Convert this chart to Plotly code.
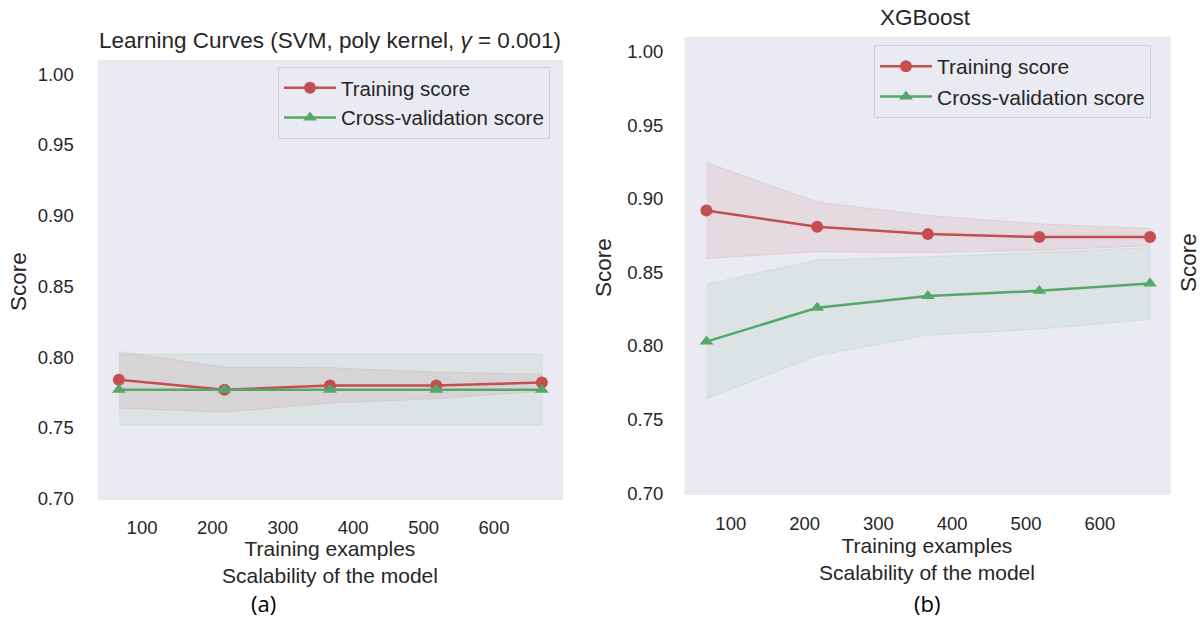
import plotly.graph_objects as go

# ---------------- data ----------------
train_sizes = [67, 217, 367, 518, 668]

svm_train_mean = [0.784, 0.777, 0.780, 0.780, 0.782]
svm_train_std = [0.020, 0.016, 0.0125, 0.0095, 0.006]
svm_cv_mean = [0.777, 0.777, 0.777, 0.777, 0.777]
svm_cv_std = [0.025, 0.025, 0.025, 0.025, 0.025]

xgb_train_mean = [0.892, 0.881, 0.876, 0.874, 0.874]
xgb_train_std = [0.0326, 0.0169, 0.0127, 0.009, 0.0059]
xgb_cv_mean = [0.803, 0.826, 0.834, 0.8375, 0.8425]
xgb_cv_std = [0.039, 0.0325, 0.0266, 0.026, 0.0244]

y_ticks = [0.70, 0.75, 0.80, 0.85, 0.90, 0.95, 1.00]
x_ticks = [100, 200, 300, 400, 500, 600]

titles = ["Learning Curves (SVM, poly kernel, <i>γ</i> = 0.001)", "XGBoost"]
series_names = ["Training score", "Cross-validation score"]
x_title = "Training examples<br>Scalability of the model"

# ---------------- style ----------------
RED = "#C44E52"
GREEN = "#55A868"
RED_FILL = "rgba(196,78,82,0.10)"
GREEN_FILL = "rgba(85,168,104,0.10)"
BG = "#EAEAF2"
TXT = "#262626"
FONT = "Liberation Sans, Arial, sans-serif"

W, H = 1200, 621

def px(x):
    return x / W

def py(y):
    return 1 - y / H

panels = [
    dict(mt=svm_train_mean, st=svm_train_std, mc=svm_cv_mean, sc=svm_cv_std,
         xd=[px(97.7), px(563)], yd=[py(500), py(60)], legend="legend"),
    dict(mt=xgb_train_mean, st=xgb_train_std, mc=xgb_cv_mean, sc=xgb_cv_std,
         xd=[px(684.3), px(1170.7)], yd=[py(495), py(36.7)], legend="legend2"),
]

fig = go.Figure()

for i, p in enumerate(panels):
    xa = "x" if i == 0 else "x2"
    ya = "y" if i == 0 else "y2"
    tu = [m + s for m, s in zip(p["mt"], p["st"])]
    tl = [m - s for m, s in zip(p["mt"], p["st"])]
    cu = [m + s for m, s in zip(p["mc"], p["sc"])]
    cl = [m - s for m, s in zip(p["mc"], p["sc"])]
    fig.add_trace(go.Scatter(x=train_sizes + train_sizes[::-1], y=tu + tl[::-1],
                             fill="toself", fillcolor=RED_FILL, mode="lines",
                             line=dict(color="rgba(196,78,82,0.12)", width=1),
                             showlegend=False, hoverinfo="skip", xaxis=xa, yaxis=ya))
    fig.add_trace(go.Scatter(x=train_sizes + train_sizes[::-1], y=cu + cl[::-1],
                             fill="toself", fillcolor=GREEN_FILL, mode="lines",
                             line=dict(color="rgba(85,168,104,0.12)", width=1),
                             showlegend=False, hoverinfo="skip", xaxis=xa, yaxis=ya))
    fig.add_trace(go.Scatter(x=train_sizes, y=p["mt"], mode="lines+markers",
                             name=series_names[0],
                             line=dict(color=RED, width=2.5),
                             marker=dict(symbol="circle", size=12, color=RED),
                             legend=p["legend"], xaxis=xa, yaxis=ya))
    fig.add_trace(go.Scatter(x=train_sizes, y=p["mc"], mode="lines+markers",
                             name=series_names[1],
                             line=dict(color=GREEN, width=2.5),
                             marker=dict(symbol="triangle-up", size=12, color=GREEN),
                             legend=p["legend"], xaxis=xa, yaxis=ya))

axis_common = dict(showgrid=False, zeroline=False, showline=False, ticks="",
                   automargin=False,
                   tickfont=dict(size=18.5, color=TXT, family=FONT))

fig.update_layout(
    width=W, height=H,
    margin=dict(l=0, r=0, t=0, b=0, autoexpand=False),
    paper_bgcolor="white",
    plot_bgcolor=BG,
    font=dict(family=FONT, color=TXT),
    xaxis=dict(domain=panels[0]["xd"], range=[37, 698], tickvals=x_ticks,
               anchor="y", ticklabelstandoff=14, **axis_common),
    yaxis=dict(domain=panels[0]["yd"], range=[0.699, 1.01], tickvals=y_ticks,
               tickformat=".2f", anchor="x", ticklabelstandoff=23, **axis_common),
    xaxis2=dict(domain=panels[1]["xd"], range=[37, 696], tickvals=x_ticks,
                anchor="y2", ticklabelstandoff=15, **axis_common),
    yaxis2=dict(domain=panels[1]["yd"], range=[0.6988, 1.0101], tickvals=y_ticks,
                tickformat=".2f", anchor="x2", ticklabelstandoff=20, **axis_common),
    legend=dict(x=px(278), y=py(67), xanchor="left", yanchor="top",
                bgcolor=BG, bordercolor="#CFCFD8", borderwidth=1, itemwidth=52,
                font=dict(size=20.5, color=TXT, family=FONT), tracegroupgap=0),
    legend2=dict(x=px(874), y=py(45), xanchor="left", yanchor="top",
                 bgcolor=BG, bordercolor="#CFCFD8", borderwidth=1, itemwidth=52,
                 font=dict(size=21, color=TXT, family=FONT), tracegroupgap=0),
    showlegend=True,
)

ann = []
def add_text(text, x, y, size, angle=0, color=TXT, family=FONT):
    ann.append(dict(text=text, x=px(x), y=py(y), xref="paper", yref="paper",
                    xanchor="center", yanchor="middle", showarrow=False,
                    textangle=angle, font=dict(size=size, color=color, family=family)))

# titles
add_text(titles[0], 330, 41, 22.5)
add_text(titles[1], 926, 17, 22.5)
# y axis titles
for xx, yy in [(18, 282), (603, 267), (1188, 263)]:
    add_text("Score", xx, yy, 22.5, angle=-90)
# x axis titles (two lines in one text)
for xx, yc in [(330, 562), (927, 559)]:
    add_text(x_title, xx, yc, 21)
# panel labels
add_text("(a)", 263, 603, 22, color="black", family="Open Sans, sans-serif")
add_text("(b)", 927, 603, 22, color="black", family="Open Sans, sans-serif")
fig.update_layout(annotations=ann)

fig.write_html("out.html")
